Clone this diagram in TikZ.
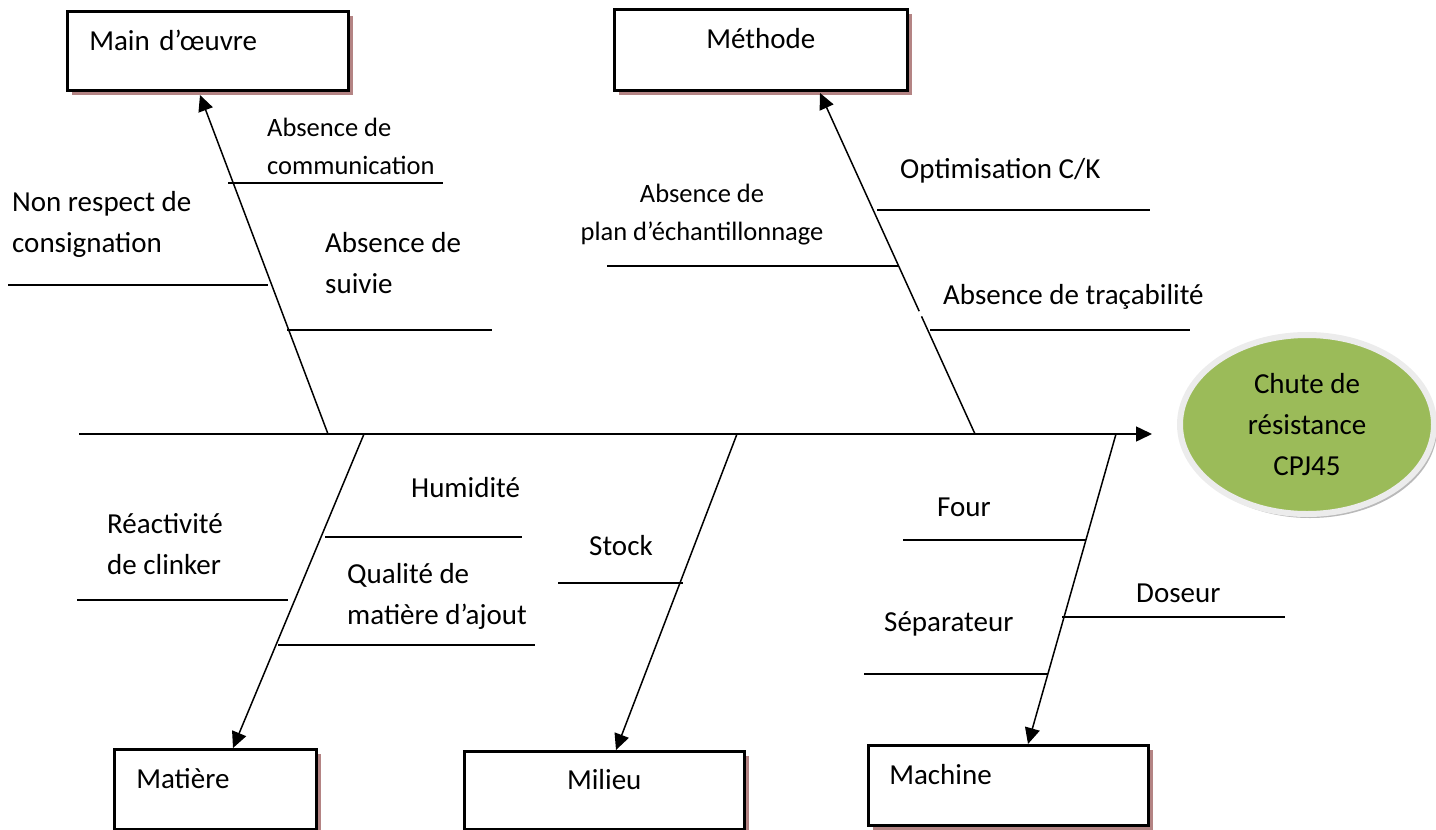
\documentclass[tikz,border=0pt]{standalone}
\usepackage{fontspec}
\setmainfont{Carlito}
\usetikzlibrary{arrows.meta,shapes.geometric,shadows,calc}

\definecolor{shadowc}{RGB}{180,132,132}
\definecolor{ringc}{RGB}{236,236,236}
\definecolor{headc}{RGB}{155,187,89}

\tikzset{
  bigfont/.style={font=\fontsize{29}{40.5}\selectfont},
  smallfont/.style={font=\fontsize{26.5}{38}\selectfont},
  catbox/.style={draw, line width=2.5pt, fill=white, anchor=north west,
    inner ysep=0pt, bigfont,
    general shadow={shadow xshift=4.5pt, shadow yshift=-4.5pt, fill=shadowc}},
  cause/.style={anchor=base west, inner sep=0pt, align=left},
  bone/.style={line width=1.5pt},
  twig/.style={line width=1.5pt},
  tip/.style={-{Triangle[length=16pt,width=15pt]}},
}

\begin{document}
\begin{tikzpicture}[x=1pt,y=-1pt]
\useasboundingbox (0,0) rectangle (1436,830);

% category boxes (top-left corner, size, text inset)
\node[catbox, minimum width=281, minimum height=79, text width=237, inner xsep=22pt,
      text height=39pt, text depth=40pt, align=left] (mo) at (66,10) {Main d’œuvre};
\node[catbox, minimum width=293, minimum height=81, text width=293, inner xsep=0pt,
      text height=39pt, text depth=42pt, align=center] (meth) at (613,8) {Méthode};
\node[catbox, minimum width=202, minimum height=80, text width=158, inner xsep=22pt,
      text height=39pt, text depth=41pt, align=left] (mat) at (113,748) {Matière};
\node[catbox, minimum width=280, minimum height=78, text width=280, inner xsep=0pt,
      text height=38pt, text depth=40pt, align=center] (mil) at (463,750) {Milieu};
\node[catbox, minimum width=280, minimum height=80, text width=238, inner xsep=21pt,
      text height=39pt, text depth=41pt, align=left] (mach) at (867,744) {Machine};

% effect (head of the fish)
\node[ellipse, fill=headc, draw=ringc, line width=6pt, minimum width=254,
      minimum height=179, align=center, bigfont, inner sep=0pt,
      general shadow={shadow xshift=3pt, shadow yshift=-4pt, fill=gray!55}]
      (head) at (1307,424.5) {Chute de\\résistance\\[0.5pt]CPJ45};

% spine
\coordinate (tail) at (79,434);
\coordinate (spineend) at (1152,434);
\draw[bone, tip] (tail) -- (spineend);

% points where the bones leave the spine and reach the boxes
\coordinate (moB) at (328,434);   \coordinate (moT) at (200,95);
\coordinate (meB) at (975,434);   \coordinate (meT) at (820,93);
\coordinate (maB) at (364,434);   \coordinate (maT) at (233,748);
\coordinate (miB) at (737,434);   \coordinate (miT) at (616,750);
\coordinate (mcB) at (1116,434);  \coordinate (mcT) at (1028,744);

\draw[bone, tip] (moB) -- (moT);
\draw[bone] (meB) -- ($(meB)!0.345!(meT)$);
\draw[bone, tip] ($(meB)!0.36!(meT)$) -- (meT);
\draw[bone, tip] (maB) -- (maT);
\draw[bone, tip] (miB) -- (miT);
\draw[bone, tip] (mcB) -- (mcT);

% causes: Main d'oeuvre (multi-line labels are placed by their last baseline)
\coordinate (c1a) at (228,183);  \coordinate (c1b) at (443,183);
\coordinate (c2a) at (8,285);    \coordinate (c2b) at (268,285);
\coordinate (c3a) at (287,330);  \coordinate (c3b) at (492,330);
\draw[twig] (c1a) -- (c1b);
\draw[twig] (c2a) -- (c2b);
\draw[twig] (c3a) -- (c3b);
\node[cause, smallfont] (t1) at (267,174) {Absence de\\communication};
\node[cause, bigfont] (t2) at (12,252) {Non respect de\\consignation};
\node[cause, bigfont] (t3) at (325,293) {Absence de\\suivie};

% causes: Methode
\coordinate (c4a) at (877,210);  \coordinate (c4b) at (1150,210);
\coordinate (c5a) at (607,266);  \coordinate (c5b) at (898,266);
\coordinate (c6a) at (930,330);  \coordinate (c6b) at (1190,330);
\draw[twig] (c4a) -- (c4b);
\draw[twig] (c5a) -- (c5b);
\draw[twig] (c6a) -- (c6b);
\node[cause, bigfont] (t4) at (900,178) {Optimisation C/K};
\node[cause, smallfont, align=center, anchor=base] (t5) at (702,240) {Absence de\\plan d’échantillonnage};
\node[cause, bigfont] (t6) at (943,304) {Absence de traçabilité};

% causes: Matiere
\coordinate (c7a) at (325,537);  \coordinate (c7b) at (522,537);
\coordinate (c8a) at (77,600);   \coordinate (c8b) at (288,600);
\coordinate (c9a) at (278,645);  \coordinate (c9b) at (535,645);
\draw[twig] (c7a) -- (c7b);
\draw[twig] (c8a) -- (c8b);
\draw[twig] (c9a) -- (c9b);
\node[cause, bigfont] (t7) at (411,497) {Humidité};
\node[cause, bigfont] (t8) at (107,574) {Réactivité\\de clinker};
\node[cause, bigfont] (t9) at (347,624) {Qualité de\\matière d’ajout};

% causes: Milieu
\coordinate (c10a) at (558,583); \coordinate (c10b) at (683,583);
\draw[twig] (c10a) -- (c10b);
\node[cause, bigfont] (t10) at (589,555) {Stock};

% causes: Machine
\coordinate (c11a) at (903,540);  \coordinate (c11b) at (1086,540);
\coordinate (c12a) at (1062,617); \coordinate (c12b) at (1285,617);
\coordinate (c13a) at (864,674);  \coordinate (c13b) at (1048,674);
\draw[twig] (c11a) -- (c11b);
\draw[twig] (c12a) -- (c12b);
\draw[twig] (c13a) -- (c13b);
\node[cause, bigfont] (t11) at (937,516) {Four};
\node[cause, bigfont] (t12) at (1136,602) {Doseur};
\node[cause, bigfont] (t13) at (884,631) {Séparateur};
\end{tikzpicture}
\end{document}
